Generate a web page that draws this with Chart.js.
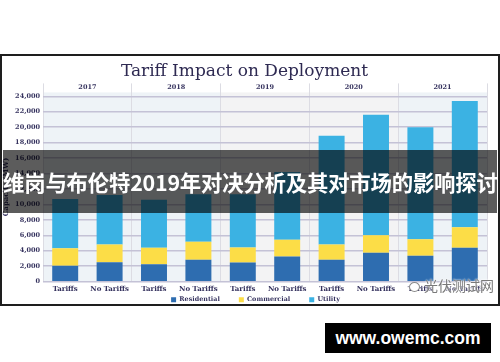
<!DOCTYPE html>
<html>
<head>
<meta charset="utf-8">
<script src="https://cdn.jsdelivr.net/npm/chart.js@4.4.0/dist/chart.umd.min.js"></script>
<style>
  html, body { margin: 0; padding: 0; background: #fff; }
  #wrap { position: relative; width: 500px; height: 362px; overflow: hidden; }
  #chartBox { position: absolute; left: 0; top: 0; width: 500px; height: 362px; }
  #frame { position: absolute; left: 0; top: 54px; width: 496px; height: 248px; border: 2px solid #1e1e1e; pointer-events: none; }
  #banner {
    position: absolute; left: 3px; top: 150px; width: 494px; height: 63px;
    background: rgba(0,0,0,0.64); color: #fff;
    font-family: "Noto Sans CJK SC", sans-serif; font-weight: 700; font-size: 21.4px;
    line-height: 64px; text-align: center; white-space: nowrap; letter-spacing: -0.2px;
  }
  #mark {
    position: absolute; left: 409px; top: 276px; color: #7a7a7a;
    font-family: "Noto Sans CJK SC", sans-serif; font-size: 14px; line-height: 18px;
    text-shadow: 0 0 2px #fff, 0 0 2px #fff;
  }
  #mark i { display: inline-block; width: 9px; height: 8px; border: 1.5px solid #8a8a8a; border-radius: 50%; margin-right: 4px; vertical-align: -1px; background: #fff; }
  #site {
    position: absolute; left: 325px; top: 323px; width: 166px; height: 30px;
    background: #000; color: #fff; text-align: center; line-height: 30px;
    font-family: "Liberation Sans", Arial, sans-serif; font-weight: 700; font-size: 17.5px;
  }
</style>
</head>
<body>
<div id="wrap">
  <div id="chartBox"><canvas id="tariffChart"></canvas></div>
  <div id="frame"></div>
  <div id="banner">维岗与布伦特2019年对决分析及其对市场的影响探讨</div>
  <div id="mark"><i></i>光伏测试网</div>
  <div id="site">www.owemc.com</div>
</div>
<script>
document.addEventListener("DOMContentLoaded", function () {

    // chart data
    const years = ["2017", "2018", "2019", "2020", "2021"];
    const scenarios = ["Tariffs", "No Tariffs", "Tariffs", "No Tariffs", "Tariffs",
                       "No Tariffs", "Tariffs", "No Tariffs", "Tariffs", "No Tariffs"];
    const residential = [2050, 2500, 2250, 2820, 2470, 3250, 2820, 3730, 3340, 4380];
    const commercial  = [2280, 2300, 2130, 2340, 1950, 2170, 1980, 2280, 2160, 2670];
    const utility     = [6370, 6400, 6220, 6140, 6880, 8780, 14100, 15590, 14500, 16350];
    const yTicks = [0, 2000, 4000, 6000, 8000, 10000, 12000, 14000, 16000, 18000, 20000, 22000, 24000];

    const ink = "#35325e";
    const serif = "'DejaVu Serif', serif";

    // shaded background per year group
    const groupShade = {
        id: "groupShade",
        beforeDraw(chart) {
            const { ctx, chartArea, scales } = chart;
            const x2 = scales.x2;
            const shades = ["#eef3f7", "#eef3f7", "#f3f3f4", "#f3f3f4", "#eef3f7"];
            const half = (x2.getPixelForValue(1) - x2.getPixelForValue(0)) / 2;
            ctx.save();
            years.forEach((y, i) => {
                const c = x2.getPixelForValue(i);
                ctx.fillStyle = shades[i];
                ctx.fillRect(c - half, chartArea.top, half * 2, chartArea.bottom - chartArea.top);
            });
            ctx.restore();
        },
        // year header above each pair of bars
        afterDraw(chart) {
            const { ctx, chartArea, scales } = chart;
            const x2 = scales.x2;
            ctx.save();
            ctx.fillStyle = ink;
            ctx.font = "bold 6.5px " + serif;
            ctx.textAlign = "center";
            ctx.textBaseline = "middle";
            years.forEach((y, i) => {
                ctx.fillText(y, x2.getPixelForValue(i), chartArea.top - 5.5);
            });
            ctx.restore();
        }
    };

    // move legend up under the tick labels, a bit to the right
    const legendShift = {
        id: "legendShift",
        afterLayout(chart) {
            const lg = chart.legend;
            if (!lg) return;
            const dy = (chart.chartArea.bottom + 18) - (lg.top + 22);
            lg.top += dy;
            lg.bottom += dy;
            lg.left += 22;
        }
    };

    const ctx = document.getElementById("tariffChart").getContext("2d");

    new Chart(ctx, {
        type: "bar",
        data: {
            labels: scenarios,
            datasets: [
                { label: "Residential", data: residential, backgroundColor: "#2e6db0" },
                { label: "Commercial", data: commercial, backgroundColor: "#fcdd47" },
                { label: "Utility", data: utility, backgroundColor: "#3bb2e3" }
            ]
        },
        options: {
            responsive: true,
            maintainAspectRatio: false,
            animation: false,
            datasets: {
                bar: { categoryPercentage: 1, barPercentage: 0.585, borderWidth: 0 }
            },
            layout: { padding: { top: 61, left: 2, right: 13, bottom: 33 } },
            plugins: {
                title: {
                    display: true,
                    text: "Tariff Impact on Deployment",
                    color: "#2e2a52",
                    font: { family: serif, size: 17, weight: "normal" },
                    padding: { top: 0, bottom: 0 }
                },
                legend: {
                    position: "bottom",
                    labels: {
                        color: ink,
                        font: { family: serif, size: 6.4, weight: "bold" },
                        boxWidth: 5,
                        boxHeight: 5,
                        padding: 19
                    }
                },
                tooltip: { enabled: false }
            },
            scales: {
                x: {
                    stacked: true,
                    grid: { display: false, drawTicks: false },
                    border: { display: false },
                    ticks: {
                        color: ink,
                        padding: 3,
                        maxRotation: 0,
                        autoSkip: false,
                        font: { family: serif, size: 7, weight: "bold" }
                    },
                    afterFit: s => { s.height = 12; }
                },
                x2: {
                    type: "category",
                    position: "top",
                    labels: years,
                    offset: true,
                    grid: { offset: true, color: "#dcdce3", lineWidth: 1, drawTicks: true, tickLength: 9 },
                    border: { display: false },
                    ticks: { display: false },
                    afterFit: s => { s.height = 11; }
                },
                y: {
                    stacked: true,
                    min: 0,
                    max: 24500,
                    afterBuildTicks: s => { s.ticks = yTicks.map(v => ({ value: v })); },
                    grid: { color: "#c4c2d6", lineWidth: 1.4, drawTicks: false },
                    border: { display: false },
                    ticks: {
                        color: ink,
                        padding: 3,
                        font: { family: serif, size: 6.5, weight: "bold" },
                        callback: v => v.toLocaleString("en-US")
                    },
                    title: {
                        display: true,
                        text: "Capacity (MW)",
                        color: ink,
                        padding: { top: 0, bottom: 2 },
                        font: { family: serif, size: 7, weight: "bold" }
                    },
                    afterFit: s => { s.width = 41; }
                }
            }
        },
        plugins: [groupShade, legendShift]
    });
});
</script>
</body>
</html>
